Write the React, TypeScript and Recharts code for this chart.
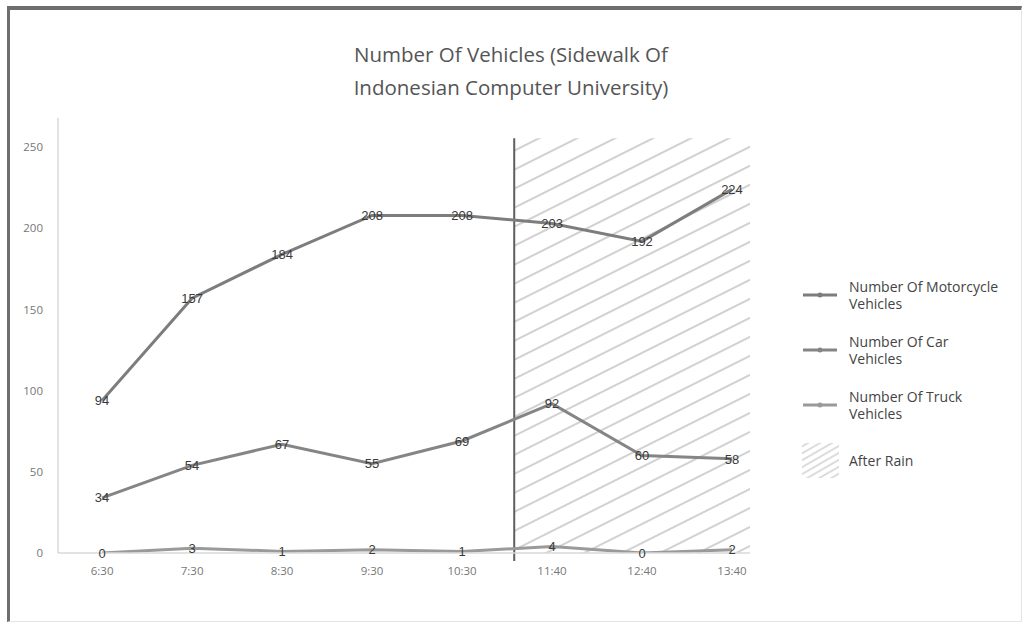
import React from "react";
import {
  LineChart,
  Line,
  XAxis,
  YAxis,
  ReferenceArea,
  ReferenceLine,
  LabelList,
} from "recharts";

const TIMES = ["6:30", "7:30", "8:30", "9:30", "10:30", "11:40", "12:40", "13:40"];
const MOTORCYCLE = [94, 157, 184, 208, 208, 203, 192, 224];
const CAR = [34, 54, 67, 55, 69, 92, 60, 58];
const TRUCK = [0, 3, 1, 2, 1, 4, 0, 2];
const Y_TICKS = [0, 50, 100, 150, 200, 250];

// rain starts between 10:30 and 11:40
const RAIN_START = 4.58;
const RAIN_END = 7.2;
const RAIN_TOP = 255.5;

const SERIES = [
  { key: "motorcycle", name: "Number Of Motorcycle", color: "#7d7d7d" },
  { key: "car", name: "Number Of Car", color: "#858585" },
  { key: "truck", name: "Number Of Truck", color: "#9a9a9a" },
];

const data = TIMES.map((t, i) => ({
  idx: i,
  time: t,
  motorcycle: MOTORCYCLE[i],
  car: CAR[i],
  truck: TRUCK[i],
}));

const FONT = "'Open Sans', 'Liberation Sans', sans-serif";

const renderLabel = (props: any) => {
  const { x, y, value } = props;
  return (
    <text
      x={x}
      y={y}
      dy="0.36em"
      textAnchor="middle"
      fill="#3a3a3a"
      fontSize={13}
      fontFamily="'Liberation Sans', Arial, sans-serif"
    >
      {value}
    </text>
  );
};

function LegendBox() {
  return (
    <div
      style={{
        position: "absolute",
        left: 802,
        top: 278,
        fontFamily: FONT,
        fontSize: 14,
        color: "#444",
        lineHeight: "17px",
      }}
    >
      {SERIES.map((s) => (
        <div key={s.key} style={{ display: "flex", alignItems: "center", height: 34, marginBottom: 21 }}>
          <svg width={36} height={10} style={{ flexShrink: 0 }}>
            <line x1={1} y1={5} x2={35} y2={5} stroke={s.color} strokeWidth={3} />
            <circle cx={18} cy={5} r={2.5} fill={s.color} />
          </svg>
          <span style={{ marginLeft: 11 }}>
            {s.name}
            <br />
            Vehicles
          </span>
        </div>
      ))}
      <div style={{ display: "flex", alignItems: "center", marginTop: 0 }}>
        <svg width={37} height={35} style={{ flexShrink: 0 }}>
          <defs>
            <pattern
              id="hatchSmall"
              patternUnits="userSpaceOnUse"
              width={8}
              height={6}
              patternTransform="rotate(-30)"
            >
              <line x1={0} y1={3} x2={8} y2={3} stroke="#c4c4c4" strokeWidth={1.2} />
            </pattern>
          </defs>
          <rect x={0} y={0} width={37} height={35} fill="url(#hatchSmall)" />
        </svg>
        <span style={{ marginLeft: 10 }}>After Rain</span>
      </div>
    </div>
  );
}

export default function App() {
  return (
    <div
      style={{
        position: "fixed",
        left: 0,
        top: 0,
        width: 1022,
        height: 624,
        background: "#fff",
        overflow: "hidden",
      }}
    >
      <div
        style={{
          position: "absolute",
          left: 7,
          top: 6,
          right: 0,
          bottom: 2,
          borderTop: "4px solid #6e6e6e",
          borderLeft: "3px solid #6e6e6e",
          borderRight: "1px solid #e4e4e4",
          borderBottom: "1px solid #e4e4e4",
        }}
      />
      <div
        style={{
          position: "absolute",
          top: 38,
          left: 0,
          width: 1022,
          textAlign: "center",
          fontFamily: FONT,
          fontSize: 20.5,
          lineHeight: "33px",
          color: "#555",
        }}
      >
        Number Of Vehicles (Sidewalk Of
        <br />
        Indonesian Computer University)
      </div>
      <div style={{ position: "absolute", left: 0, top: 0 }}>
        <LineChart
          width={1022}
          height={624}
          data={data}
          margin={{ top: 118, right: 272, bottom: 41, left: 0 }}
        >
          <defs>
            <pattern
              id="hatch"
              patternUnits="userSpaceOnUse"
              width={20}
              height={17}
              patternTransform="rotate(-26.6)"
            >
              <line x1={0} y1={8} x2={20} y2={8} stroke="#ababab" strokeWidth={1.1} />
            </pattern>
          </defs>
          <XAxis
            dataKey="idx"
            type="number"
            domain={[-0.49, RAIN_END]}
            ticks={TIMES.map((_, i) => i)}
            tickFormatter={(i: number) => TIMES[i] ?? ""}
            height={30}
            tickLine={false}
            tickSize={0}
            tickMargin={14}
            axisLine={{ stroke: "#d9d9d9", strokeWidth: 1.5 }}
            tick={{ fill: "#777", fontSize: 11.5, fontFamily: FONT }}
            allowDataOverflow
          />
          <YAxis
            type="number"
            domain={[0, 268]}
            ticks={Y_TICKS}
            width={58}
            tickLine={false}
            tickSize={0}
            tickMargin={15}
            axisLine={{ stroke: "#d9d9d9", strokeWidth: 1.5 }}
            tick={{ fill: "#777", fontSize: 11.5, fontFamily: FONT }}
            allowDataOverflow
          />
          <ReferenceArea
            x1={RAIN_START}
            x2={RAIN_END}
            y1={0}
            y2={RAIN_TOP}
            fill="url(#hatch)"
            fillOpacity={1}
            stroke="none"
            ifOverflow="visible"
          />
          <ReferenceLine
            segment={[
              { x: RAIN_START, y: -5 },
              { x: RAIN_START, y: RAIN_TOP },
            ]}
            stroke="#5e5e5e"
            strokeWidth={2}
            ifOverflow="visible"
          />
          {SERIES.map((s) => (
            <Line
              key={s.key}
              dataKey={s.key}
              name={s.name + " Vehicles"}
              stroke={s.color}
              strokeWidth={3}
              dot={false}
              activeDot={false}
              isAnimationActive={false}
            >
              <LabelList dataKey={s.key} content={renderLabel} />
            </Line>
          ))}
        </LineChart>
      </div>
      <LegendBox />
    </div>
  );
}
